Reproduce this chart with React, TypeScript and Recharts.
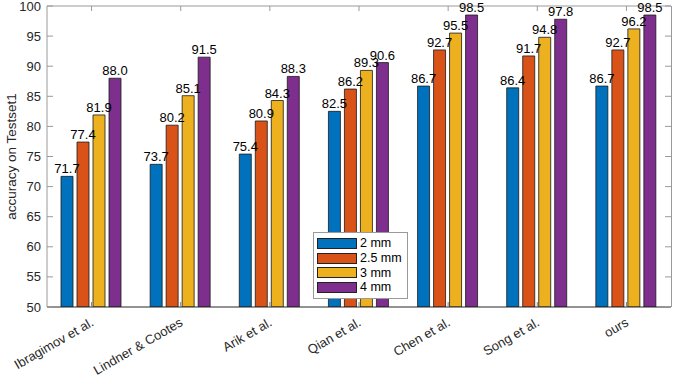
import { BarChart, Bar, XAxis, YAxis, LabelList, ReferenceLine } from 'recharts';

const methods = ['Ibragimov et al.', 'Lindner & Cootes', 'Arik et al.', 'Qian et al.', 'Chen et al.', 'Song et al.', 'ours'];
const acc2mm = [71.7, 73.7, 75.4, 82.5, 86.7, 86.4, 86.7];
const acc25mm = [77.4, 80.2, 80.9, 86.2, 92.7, 91.7, 92.7];
const acc3mm = [81.9, 85.1, 84.3, 89.3, 95.5, 94.8, 96.2];
const acc4mm = [88.0, 91.5, 88.3, 90.6, 98.5, 97.8, 98.5];
const yTicks = [50, 55, 60, 65, 70, 75, 80, 85, 90, 95, 100];

const seriesInfo = [
    { key: 'mm2', name: '2 mm', color: '#0072BD' },
    { key: 'mm25', name: '2.5 mm', color: '#D95319' },
    { key: 'mm3', name: '3 mm', color: '#EDB120' },
    { key: 'mm4', name: '4 mm', color: '#7E2F8E' },
];

const data = methods.map((name, i) => ({
    name,
    mm2: acc2mm[i],
    mm25: acc25mm[i],
    mm3: acc3mm[i],
    mm4: acc4mm[i],
}));

const FONT = '"Liberation Sans", Arial, Helvetica, sans-serif';
const W = 673;
const H = 376;
const PLOT_LEFT = 47;
const PLOT_TOP = 6;
const PLOT_RIGHT = 671;
const PLOT_BOTTOM = 307;
const FRAME = '#9a9a9a';

const YTick = ({ y, payload }: any) => (
    <g>
        <line x1={PLOT_LEFT} x2={PLOT_LEFT + 6} y1={y} y2={y} stroke={FRAME} />
        <line x1={PLOT_RIGHT - 6} x2={PLOT_RIGHT} y1={y} y2={y} stroke={FRAME} />
        <text x={PLOT_LEFT - 6} y={y} dy={4.5} textAnchor="end" fontSize={13} fill="#262626" fontFamily={FONT}>
            {payload.value}
        </text>
    </g>
);

const XTick = ({ x, payload }: any) => (
    <g>
        <line x1={x} x2={x} y1={PLOT_BOTTOM} y2={PLOT_BOTTOM - 5} stroke="#808080" />
        <line x1={x} x2={x} y1={PLOT_TOP} y2={PLOT_TOP + 5} stroke={FRAME} />
        <text
            x={x + 3}
            y={325}
            textAnchor="end"
            fontSize={13}
            fill="#262626"
            fontFamily={FONT}
            transform={`rotate(-30, ${x + 3}, 325)`}
        >
            {payload.value}
        </text>
    </g>
);

const LegendBox = () => (
    <div
        style={{
            position: 'absolute',
            left: 313,
            top: 232,
            border: `1px solid ${FRAME}`,
            background: '#fff',
            padding: '3px 4px 3px 3px',
            width: 86,
            fontFamily: FONT,
            fontSize: 12.5,
            color: '#000',
        }}
    >
        {seriesInfo.map(s => (
            <div key={s.key} style={{ display: 'flex', alignItems: 'center', height: 14.7 }}>
                <div style={{ width: 38, height: 9, background: s.color, border: '1px solid #222', marginRight: 3 }} />
                <span>{s.name}</span>
            </div>
        ))}
    </div>
);

export default function App() {
    return (
        <div style={{ position: 'absolute', left: 0, top: 0, width: W, height: H, background: '#fff' }}>
            <BarChart
                width={W}
                height={H}
                data={data}
                margin={{ top: PLOT_TOP, right: W - PLOT_RIGHT, left: 0, bottom: 0 }}
                barCategoryGap={14}
                barGap={4}
                style={{ overflow: 'visible' }}
            >
                <XAxis
                    dataKey="name"
                    height={H - PLOT_BOTTOM}
                    axisLine={{ stroke: '#262626' }}
                    tickLine={false}
                    interval={0}
                    tick={<XTick />}
                />
                <YAxis
                    width={PLOT_LEFT}
                    domain={[50, 100]}
                    ticks={yTicks}
                    interval={0}
                    allowDataOverflow
                    axisLine={{ stroke: FRAME }}
                    tickLine={false}
                    tick={<YTick />}
                    label={{
                        content: (props: any) => {
                            const vb = props.viewBox || { x: 0, y: PLOT_TOP, height: PLOT_BOTTOM - PLOT_TOP };
                            const cx = 11;
                            const cy = vb.y + vb.height / 2;
                            return (
                                <text
                                    x={cx}
                                    y={cy}
                                    textAnchor="middle"
                                    fontSize={13.5}
                                    fill="#262626"
                                    fontFamily={FONT}
                                    transform={`rotate(-90, ${cx}, ${cy})`}
                                    dy={4.5}
                                >
                                    accuracy on Testset1
                                </text>
                            );
                        },
                    }}
                />
                <ReferenceLine y={100} stroke={FRAME} />
                {seriesInfo.map(s => (
                    <Bar
                        key={s.key}
                        dataKey={s.key}
                        name={s.name}
                        fill={s.color}
                        stroke="#1a1a1a"
                        strokeWidth={0.8}
                        isAnimationActive={false}
                    >
                        <LabelList
                            dataKey={s.key}
                            position="top"
                            offset={3}
                            formatter={(v: any) => Number(v).toFixed(1)}
                            style={{ fontSize: 13, fill: '#000', fontFamily: FONT }}
                        />
                    </Bar>
                ))}
            </BarChart>
            <div
                style={{
                    position: 'absolute',
                    left: PLOT_RIGHT,
                    top: PLOT_TOP,
                    width: 1,
                    height: PLOT_BOTTOM - PLOT_TOP,
                    background: FRAME,
                }}
            />
            <LegendBox />
        </div>
    );
}
